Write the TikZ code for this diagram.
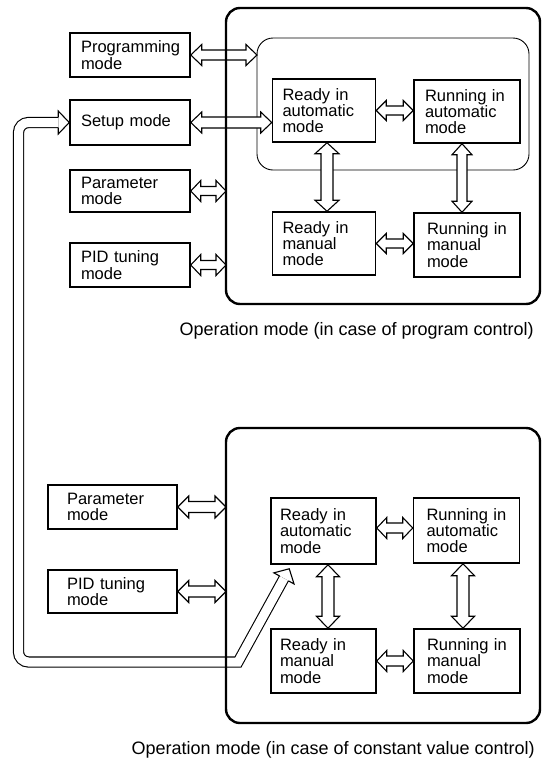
\documentclass[tikz,border=0pt]{standalone}
\usepackage{fontspec}
\setmainfont{Liberation Sans}
\usetikzlibrary{calc}
\pgfdeclarelayer{bg}
\pgfdeclarelayer{fg}
\pgfsetlayers{bg,main,fg}
\newcommand\boxfont{\fontsize{16.5}{16.3}\selectfont}
\newcommand\capfont{\fontsize{18}{20}\selectfont}
\tikzset{
  modebox/.style={draw, line width=1.5pt, align=left, font=\boxfont, inner ysep=0pt},
  lbox/.style={modebox, text width=98pt, inner xsep=11pt},
  lboxb/.style={modebox, text width=91pt, inner xsep=19pt},
  rdbox/.style={modebox, text width=83pt, inner xsep=10pt},
  rnbox/.style={modebox, text width=84pt, inner xsep=11pt},
  obox/.style={draw, line width=2.4pt, rounded corners=14pt, inner sep=0pt, outer sep=0pt},
  ibox/.style={draw, line width=0.9pt, rounded corners=16pt, inner sep=0pt, outer sep=0pt},
  hollow/.style={draw, fill=white, line width=1.1pt, line join=miter},
  longarr/.style={double=white, double distance=9pt, line width=1.1pt},
  headline/.style={draw, line width=1.1pt, line join=miter},
  captext/.style={font=\capfont, anchor=base east, inner sep=0pt},
}
% hollow double-headed arrow: from, to, head length, shaft half width, head half width
\newcommand\dblarr[5]{%
  \coordinate (dA) at (#1);
  \coordinate (dB) at (#2);
  \coordinate (da1) at ($(dA)!#3!(dB)$);
  \coordinate (da2) at ($(dB)!#3!(dA)$);
  \draw[hollow] (dA) -- ($(da1)!#5!90:(dB)$) -- ($(da1)!#4!90:(dB)$)
    -- ($(da2)!#4!-90:(dA)$) -- ($(da2)!#5!-90:(dA)$) -- (dB)
    -- ($(da2)!#5!90:(dA)$) -- ($(da2)!#4!90:(dA)$)
    -- ($(da1)!#4!-90:(dB)$) -- ($(da1)!#5!-90:(dB)$) -- cycle;}
% open arrow head: base, tip, shaft half width, head half width
\newcommand\headonly[4]{%
  \draw[headline] ($(#1)!#3!90:(#2)$) -- ($(#1)!#4!90:(#2)$) -- (#2)
    -- ($(#1)!#4!-90:(#2)$) -- ($(#1)!#3!-90:(#2)$);}
\begin{document}
\begin{tikzpicture}[x=1pt,y=-1pt]
\useasboundingbox (0,0) rectangle (551,761);
\begin{pgfonlayer}{fg}
\node[obox, minimum width=314pt, minimum height=296pt] (op1) at (383,156) {};
\node[obox, minimum width=314pt, minimum height=295pt] (op2) at (383,575.5) {};
\end{pgfonlayer}
\begin{pgfonlayer}{bg}
\node[ibox, minimum width=272pt, minimum height=132pt] (ib) at (393,104) {};
\end{pgfonlayer}
% top group
\node[lbox, minimum height=44pt] (prog) at (130,55) {Programming\\mode};
\node[lbox, minimum height=45pt] (setup) at (130,122.5) {Setup mode};
\node[lbox, minimum height=42pt] (par1) at (130,191) {Parameter\\mode};
\node[lbox, minimum height=44pt] (pid1) at (130,265) {PID tuning\\mode};
\node[rdbox, minimum height=63pt] (ra1) at (324,110.5) {Ready in\\automatic\\mode};
\node[rnbox, minimum height=63pt] (rn1) at (467,111.5) {Running in\\automatic\\mode};
\node[rdbox, minimum height=63pt] (rm1) at (324,243.5) {Ready in\\manual\\mode};
\node[rnbox, text width=80pt, inner xsep=13pt, minimum height=64pt] (nm1) at (467,245) {Running in\\manual\\mode};
% bottom group
\node[lboxb, minimum height=44pt] (par2) at (112.5,507) {Parameter\\mode};
\node[lboxb, minimum height=43pt] (pid2) at (112.5,591.5) {PID tuning\\mode};
\node[rdbox, text width=87pt, inner xsep=9pt, minimum height=66pt] (ra2) at (323.5,531) {Ready in\\automatic\\mode};
\node[rnbox, text width=80pt, inner xsep=13pt, minimum height=65pt] (rn2) at (466.5,530.5) {Running in\\automatic\\mode};
\node[rdbox, text width=87pt, inner xsep=9pt, minimum height=64pt] (rm2) at (323.5,661) {Ready in\\manual\\mode};
\node[rnbox, text width=80pt, inner xsep=13pt, minimum height=64pt] (nm2) at (467,661) {Running in\\manual\\mode};
% captions
\node[captext] (cap1) at (534,335) {Operation mode (in case of program control)};
\node[captext] (cap2) at (535,754) {Operation mode (in case of constant value control)};
% top arrows
\dblarr{prog.east}{prog.east -| ib.west}{11pt}{5pt}{10.5pt}
\dblarr{setup.east}{setup.east -| ra1.west}{11pt}{5.5pt}{10.5pt}
\dblarr{par1.east}{par1.east -| op1.west}{10pt}{4.5pt}{10.5pt}
\dblarr{pid1.east}{pid1.east -| op1.west}{10pt}{4.5pt}{10.5pt}
\dblarr{ra1.east}{ra1.east -| rn1.west}{10pt}{4.5pt}{10pt}
\dblarr{rm1.east}{rm1.east -| nm1.west}{10pt}{4.5pt}{10pt}
\coordinate (v1) at ([xshift=3pt]ra1.south);
\dblarr{v1}{v1 |- rm1.north}{11pt}{6pt}{12pt}
\coordinate (v2) at ([xshift=-5pt]rn1.south);
\dblarr{v2}{v2 |- nm1.north}{11pt}{5pt}{10pt}
% bottom arrows
\dblarr{par2.east}{par2.east -| op2.west}{11pt}{5.5pt}{11pt}
\dblarr{pid2.east}{pid2.east -| op2.west}{11pt}{5.5pt}{11pt}
\coordinate (h3) at ([yshift=3pt]ra2.east);
\dblarr{h3}{h3 -| rn2.west}{10pt}{5pt}{10.5pt}
\dblarr{rm2.east}{rm2.east -| nm2.west}{10pt}{5pt}{10.5pt}
\coordinate (v3) at ([xshift=4.5pt]ra2.south);
\dblarr{v3}{v3 |- rm2.north}{12pt}{6pt}{11.5pt}
\coordinate (v4) at ([xshift=-3.5pt]rn2.south);
\dblarr{v4}{v4 |- nm2.north}{12pt}{6pt}{11.5pt}
% long arrow from constant-value operation to setup mode
\coordinate (lt) at (setup.west);
\coordinate (lb) at ($(lt)+(-11,0)$);
\coordinate (c1) at (18.5,0 |- setup.west);
\coordinate (c2) at (18.5,662);
\coordinate (c3) at (238,662);
\coordinate (tp) at ([shift={(19,4)}]ra2.south west);
\coordinate (bb) at ($(tp)!11pt!(c3)$);
\draw[longarr] (lb) [rounded corners=10pt] -- (c1) -- (c2) [sharp corners] -- (c3) -- (bb);
\headonly{lb}{lt}{5.05pt}{11.5pt}
\headonly{bb}{tp}{5.05pt}{11.5pt}
\end{tikzpicture}
\end{document}
